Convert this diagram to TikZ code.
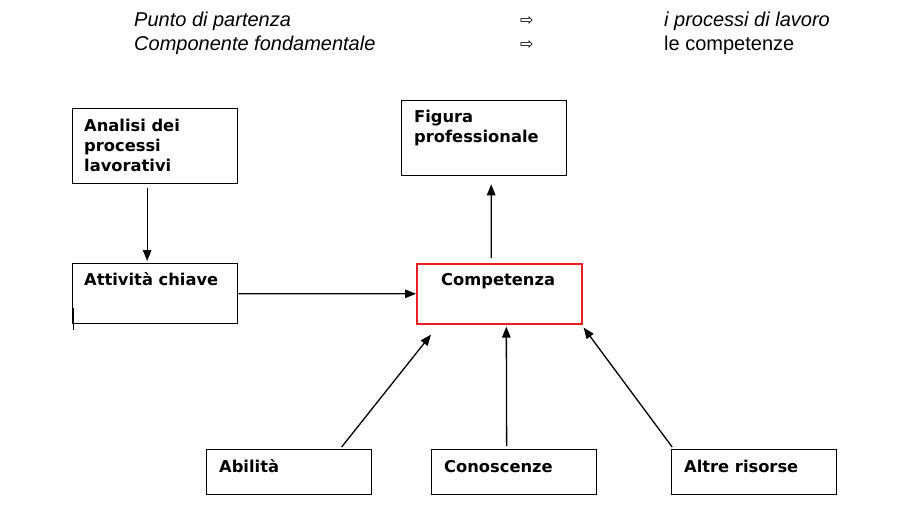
\documentclass[tikz,border=0pt]{standalone}
\usepackage{fontspec}
\usetikzlibrary{arrows.meta,calc}
\newfontfamily\boxfont{DejaVu Sans}
\newfontfamily\hdrfont{Liberation Sans}
\newfontfamily\symfont{DejaVu Sans}
\definecolor{boxred}{RGB}{232,30,36}
\begin{document}
\begin{tikzpicture}[x=1pt,y=-1pt,
  box/.style={draw=black,line width=1.3pt,anchor=north west,inner sep=0pt,minimum width=165pt},
  redbox/.style={box,draw=boxred,line width=1.6pt},
  lbl/.style={anchor=base west,inner sep=0pt,font=\boxfont\bfseries\fontsize{16.3}{20}\selectfont},
  hdr/.style={anchor=base west,inner sep=0pt,font=\hdrfont\fontsize{20}{24}\selectfont},
  sym/.style={anchor=base west,inner sep=0pt,font=\symfont\fontsize{16}{18}\selectfont},
  arr/.style={line width=1.3pt,-{Triangle[length=11pt,width=8.5pt]}}]
\useasboundingbox[fill=white] (0,0) rectangle (901,529);
% header
\node[hdr] (h1) at (134,27) {\itshape Punto di partenza};
\node[sym] (s1) at (520,26) {⇨};
\node[hdr] (h2) at (664,27) {\itshape i processi di lavoro};
\node[hdr] (h3) at (134,51) {\itshape Componente fondamentale};
\node[sym] (s2) at (520,50) {⇨};
\node[hdr] (h4) at (664,51) {le competenze};
% boxes
\node[box,minimum height=75pt] (ana) at (72,108) {};
\node[box,minimum height=60pt] (att) at (72,263) {};
\node[box,minimum height=75pt] (fig) at (401,100) {};
\node[redbox,minimum height=60pt] (comp) at (416,263) {};
\node[box,minimum height=45pt] (abi) at (206,449) {};
\node[box,minimum height=45pt] (con) at (431,449) {};
\node[box,minimum height=45pt] (alt) at (671,449) {};
% labels
\node[lbl] (t1) at (84,132) {Analisi dei};
\node[lbl] (t2) at (84,152) {processi};
\node[lbl] (t3) at (84,172) {lavorativi};
\node[lbl] (t4) at (84,285) {Attività chiave};
\node[lbl] (t5) at (414,123) {Figura};
\node[lbl] (t6) at (414,143) {professionale};
\node[lbl] (t7) at (441,285) {Competenza};
\node[lbl] (t8) at (219,472) {Abilità};
\node[lbl] (t9) at (444,472) {Conoscenze};
\node[lbl] (t10) at (684,472) {Altre risorse};
% connectors
\draw[arr] ($(ana.south)+(-8,4)$) -- ($(att.north)+(-8,-2)$);
\draw[arr] (att.east) -- (comp.west);
\draw[arr] ($(comp.north)+(-8,-5)$) -- ($(fig.south)+(7,8)$);
\draw[arr] ($(abi.north)+(52.5,-2)$) -- ($(comp.south west)+(15,10)$);
\draw[arr] ($(con.north)+(-7.5,-3)$) -- ($(comp.south)+(7,2)$);
\draw[arr] ($(alt.north)+(-82,-2)$) -- ($(comp.south east)+(1,3)$);
% cursor mark
\coordinate (c1) at (73.5,308);
\coordinate (c2) at (73.5,330);
\draw[line width=0.8pt] (c1) -- (c2);
\end{tikzpicture}
\end{document}
